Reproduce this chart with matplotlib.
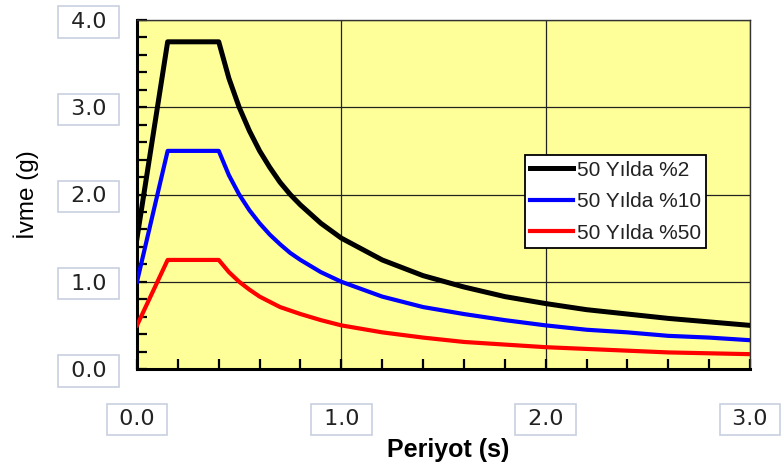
from matplotlib import pyplot as plt
from matplotlib.ticker import MultipleLocator
import numpy as np

# Data
periyot = [0.0, 0.15, 0.4, 0.45, 0.5, 0.55, 0.6, 0.65, 0.7, 0.75, 0.8, 0.9, 1.0,
           1.2, 1.4, 1.6, 1.8, 2.0, 2.2, 2.4, 2.6, 2.8, 3.0]
ivme_2 = [1.50, 3.75, 3.75, 3.33, 3.00, 2.73, 2.50, 2.31, 2.14, 2.00, 1.88, 1.67, 1.50,
          1.25, 1.07, 0.94, 0.83, 0.75, 0.68, 0.63, 0.58, 0.54, 0.50]
ivme_10 = [1.00, 2.50, 2.50, 2.22, 2.00, 1.82, 1.67, 1.54, 1.43, 1.33, 1.25, 1.11, 1.00,
           0.83, 0.71, 0.63, 0.56, 0.50, 0.45, 0.42, 0.38, 0.36, 0.33]
ivme_50 = [0.50, 1.25, 1.25, 1.11, 1.00, 0.91, 0.83, 0.77, 0.71, 0.67, 0.63, 0.56, 0.50,
           0.42, 0.36, 0.31, 0.28, 0.25, 0.23, 0.21, 0.19, 0.18, 0.17]

seri_adlari = ["50 Yılda %2", "50 Yılda %10", "50 Yılda %50"]
renkler = ["black", "#0000ff", "#ff0000"]

x_ticks = [0.0, 1.0, 2.0, 3.0]
y_ticks = [0.0, 1.0, 2.0, 3.0, 4.0]

plt.rcParams['font.family'] = ['Liberation Sans', 'DejaVu Sans']

fig = plt.figure(figsize=(7.82, 4.70), dpi=100)
ax = fig.add_axes([137 / 782, 1 - 369 / 470, 613 / 782, 349 / 470])
ax.set_facecolor("#ffff99")

# curves
widths = [3.6, 3.0, 3.0]
for y, name, c, w in zip([ivme_2, ivme_10, ivme_50], seri_adlari, renkler, widths):
    ax.plot(periyot, y, color=c, linewidth=w, label=name, solid_joinstyle="round", zorder=3)

ax.set_xlim(0, 3)
ax.set_ylim(0, 4)

ax.set_xticks(x_ticks)
ax.set_yticks(y_ticks)
ax.set_xticklabels([" %.1f " % v for v in x_ticks])
ax.set_yticklabels([" %.1f " % v for v in y_ticks])
ax.xaxis.set_minor_locator(MultipleLocator(0.2))
ax.yaxis.set_minor_locator(MultipleLocator(0.2))

ax.tick_params(which="both", direction="in", length=7, width=1.6, color="black",
               top=False, right=False)
ax.tick_params(axis="x", which="major", pad=29, labelsize=16, labelcolor="#222222")
ax.tick_params(axis="y", which="major", pad=17, labelsize=16, labelcolor="#222222")

# boxed tick labels
for lbl in ax.get_xticklabels() + ax.get_yticklabels():
    lbl.set_fontfamily("DejaVu Sans")
    lbl.set_bbox(dict(boxstyle="square,pad=0.25", facecolor="white", edgecolor="#c8d0e0", linewidth=1.2))

# grid on major ticks
ax.grid(True, which="major", color="#222222", linewidth=0.9, zorder=1)
ax.set_axisbelow(True)

# spines
for s in ["left", "bottom"]:
    ax.spines[s].set_linewidth(2.2)
    ax.spines[s].set_color("black")
for s in ["top", "right"]:
    ax.spines[s].set_linewidth(1.0)
    ax.spines[s].set_color("#333333")

ax.set_xlabel("Periyot (s)", fontsize=18, fontweight="bold", va="center")
ax.xaxis.set_label_coords(0.507, -0.232)
ax.set_ylabel("İvme (g)", fontsize=17.5, va="center")
ax.yaxis.set_label_coords(-0.18, 0.5)

leg = ax.legend(loc="lower left", bbox_to_anchor=(0.633, 0.347), borderaxespad=0,
                fontsize=15, handlelength=2.05, handletextpad=0.2, borderpad=0.25,
                labelspacing=0.6, fancybox=False, framealpha=1, edgecolor="black")
leg.get_frame().set_linewidth(1.3)
for t in leg.get_texts():
    t.set_color("#222222")

plt.savefig("out.png", dpi=100)
